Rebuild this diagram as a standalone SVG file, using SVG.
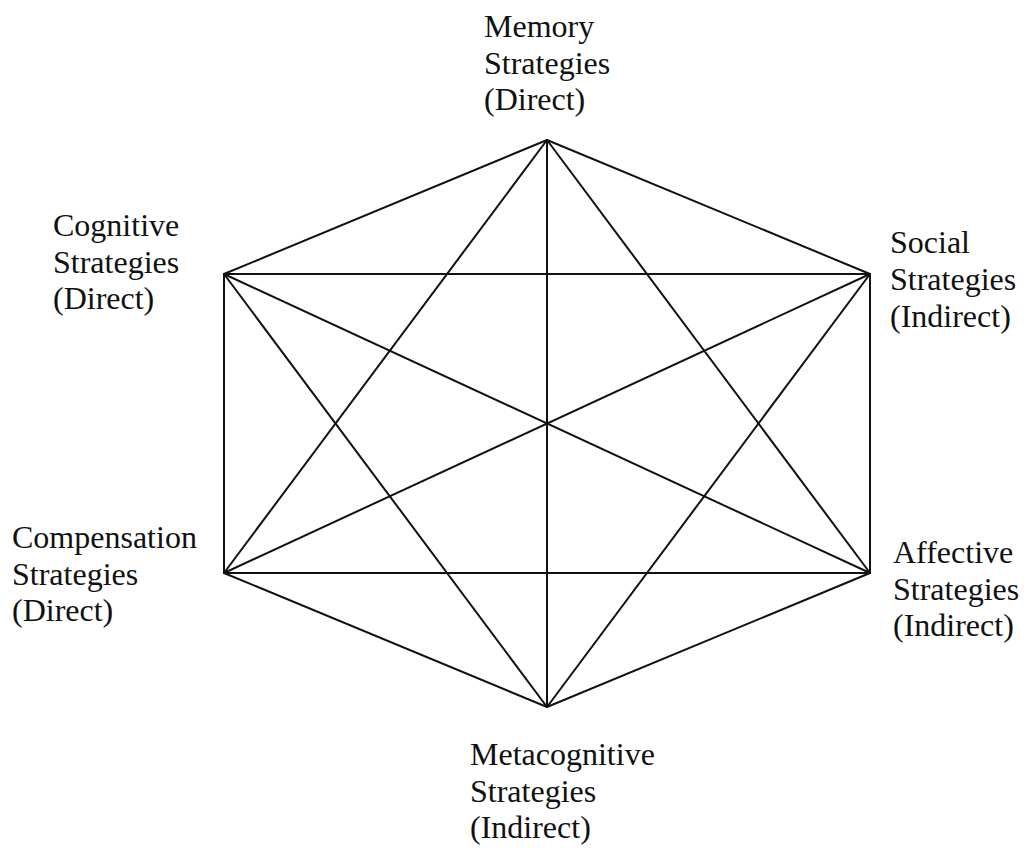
<svg xmlns="http://www.w3.org/2000/svg" width="1027" height="848" viewBox="0 0 1027 848">
<style>
.lbl{font-family:'Liberation Serif','Times New Roman','DejaVu Serif',serif;font-size:32px;fill:#111;}
.e{stroke:#111;stroke-width:2;fill:none;stroke-linecap:round;}
</style>
<rect width="1027" height="848" fill="#fff"/>
<g id="connectors">
<line class="e" x1="547" y1="140" x2="224" y2="274"/>
<line class="e" x1="547" y1="140" x2="870" y2="274"/>
<line class="e" x1="547" y1="140" x2="224" y2="573"/>
<line class="e" x1="547" y1="140" x2="870" y2="573"/>
<line class="e" x1="547" y1="140" x2="547" y2="707"/>
<line class="e" x1="224" y1="274" x2="870" y2="274"/>
<line class="e" x1="224" y1="274" x2="224" y2="573"/>
<line class="e" x1="224" y1="274" x2="870" y2="573"/>
<line class="e" x1="224" y1="274" x2="547" y2="707"/>
<line class="e" x1="870" y1="274" x2="224" y2="573"/>
<line class="e" x1="870" y1="274" x2="870" y2="573"/>
<line class="e" x1="870" y1="274" x2="547" y2="707"/>
<line class="e" x1="224" y1="573" x2="870" y2="573"/>
<line class="e" x1="224" y1="573" x2="547" y2="707"/>
<line class="e" x1="870" y1="573" x2="547" y2="707"/>
</g>
<g id="memory">
<text class="lbl" x="484" y="37">Memory</text>
<text class="lbl" x="484" y="74">Strategies</text>
<text class="lbl" x="484" y="110">(Direct)</text>
</g>
<g id="cognitive">
<text class="lbl" x="53" y="236">Cognitive</text>
<text class="lbl" x="53" y="273">Strategies</text>
<text class="lbl" x="53" y="309">(Direct)</text>
</g>
<g id="social">
<text class="lbl" x="890" y="253">Social</text>
<text class="lbl" x="890" y="290">Strategies</text>
<text class="lbl" x="890" y="327">(Indirect)</text>
</g>
<g id="compensation">
<text class="lbl" x="12" y="548">Compensation</text>
<text class="lbl" x="12" y="585">Strategies</text>
<text class="lbl" x="12" y="621">(Direct)</text>
</g>
<g id="affective">
<text class="lbl" x="893" y="563">Affective</text>
<text class="lbl" x="893" y="600">Strategies</text>
<text class="lbl" x="893" y="636">(Indirect)</text>
</g>
<g id="metacognitive">
<text class="lbl" x="470" y="765">Metacognitive</text>
<text class="lbl" x="470" y="802">Strategies</text>
<text class="lbl" x="470" y="838">(Indirect)</text>
</g>
</svg>
